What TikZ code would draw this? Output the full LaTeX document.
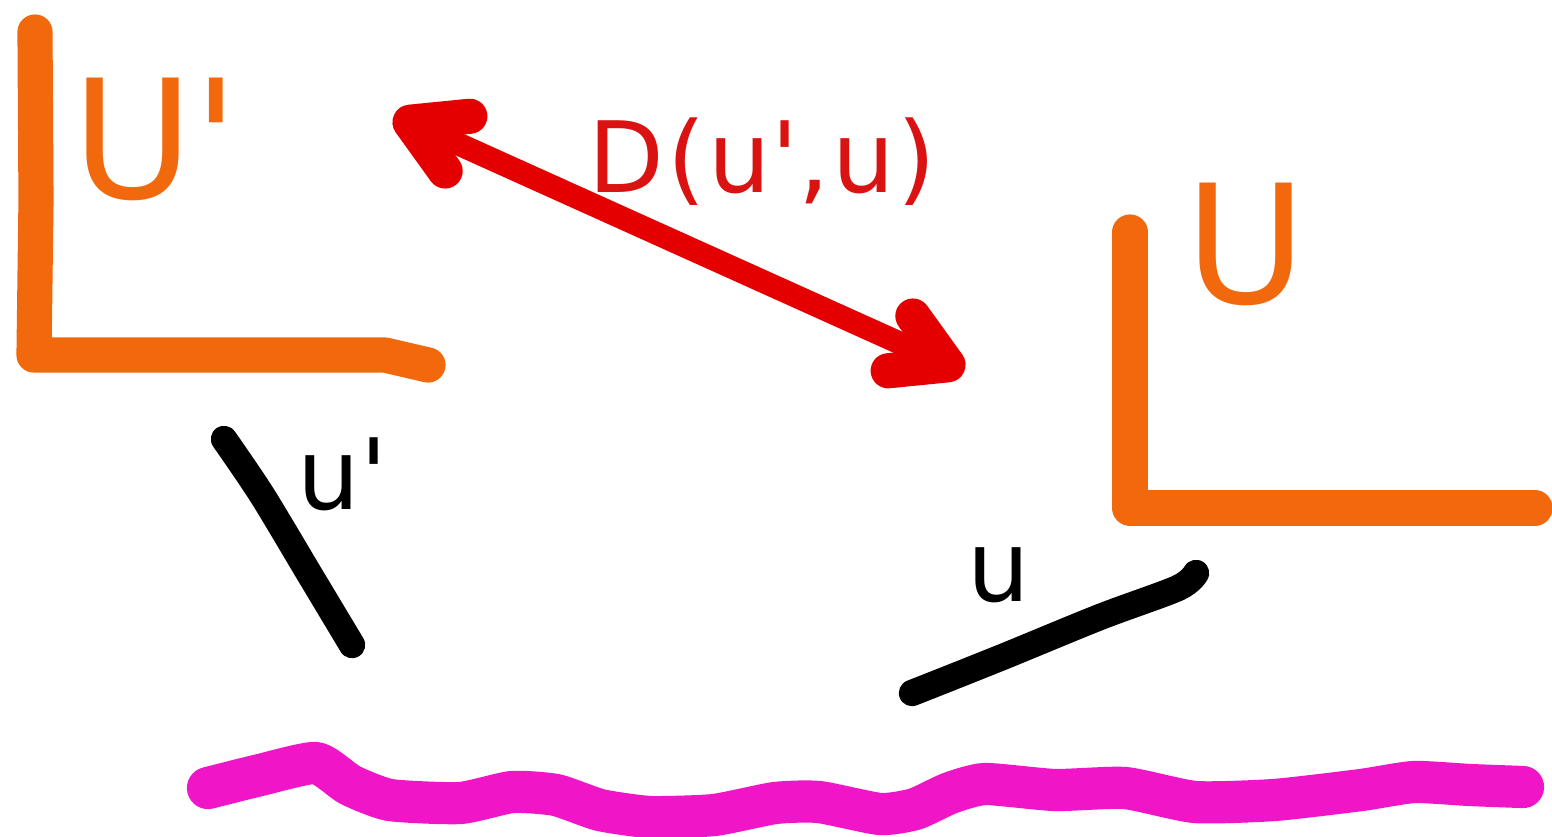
\documentclass[tikz,border=0pt]{standalone}
\usepackage{fontspec}
\setmainfont{DejaVu Sans}[LetterSpace=3]
\usetikzlibrary{arrows.meta,positioning}
\definecolor{sketchorange}{RGB}{242,104,12}
\definecolor{sketchred}{RGB}{228,0,0}
\definecolor{labelred}{RGB}{218,18,18}
\definecolor{sketchpink}{RGB}{240,22,200}
\tikzset{
  frameline/.style={line width=10pt, draw=sketchorange, line cap=round, line join=round},
  distarrow/.style={
    line width=6.5pt, draw=sketchred, line cap=round,
    {Straight Barb[length=5.2mm,width=6mm,line width=10pt,round]}-{Straight Barb[length=5.2mm,width=6mm,line width=10pt,round]}
  },
  vecline/.style={line width=7.5pt, draw=black, line cap=round, line join=round},
  waveline/.style={line width=12pt, draw=sketchpink, line cap=round, line join=round},
  framelabel/.style={inner sep=0pt, anchor=base west, text=sketchorange, font=\fontsize{47}{56}\selectfont},
  veclabel/.style={inner sep=0pt, anchor=base west, text=black, font=\fontsize{28}{34}\selectfont},
  distlabel/.style={inner sep=0pt, anchor=base west, text=labelred, font=\fontsize{28}{34}\selectfont}
}
\begin{document}
\begin{tikzpicture}[x=0.01cm, y=-0.01cm]
        \useasboundingbox (0,0) rectangle (1552,836);
        % frames
        \draw[frameline] (35,32) -- (36,200) -- (34,355) -- (385,355) -- (428,365);
        \draw[frameline] (1130,232) -- (1130,508) -- (1535,508);
        \node[framelabel] (Uprime) at (72,198) {U\textquotesingle};
        \node[framelabel] (U) at (1185,303) {U};
        % distance between the frames
        \coordinate (dstart) at (394,115);
        \coordinate (dend) at (964,372);
        \draw[distarrow] (dstart) -- (dend);
        \node[distlabel] (dist) at (588,192) {D(u\textquotesingle,u)};
        % vectors
        \draw[vecline] plot[smooth, tension=0.5] coordinates {(224,439) (262,495) (310,575) (352,645)};
        \draw[vecline] plot[smooth, tension=0.5] coordinates {(912,693) (1000,658) (1100,617) (1178,588) (1196,573)};
        \node[veclabel] (uprime) at (297,509) {u\textquotesingle};
        \node[veclabel] (u) at (967,601) {u};
        % wavy ground line
        \draw[waveline] plot[smooth, tension=0.35] coordinates {(208,788) (260,775) (316,763) (350,785) (390,800) (460,803) (512,792) (556,795) (600,810) (650,817) (714,815) (775,803) (819,802) (880,814) (915,809) (950,793) (985,784) (1055,790) (1125,788) (1195,802) (1274,800) (1361,790) (1414,782) (1470,785) (1523,787)};
      \end{tikzpicture}
\end{document}
